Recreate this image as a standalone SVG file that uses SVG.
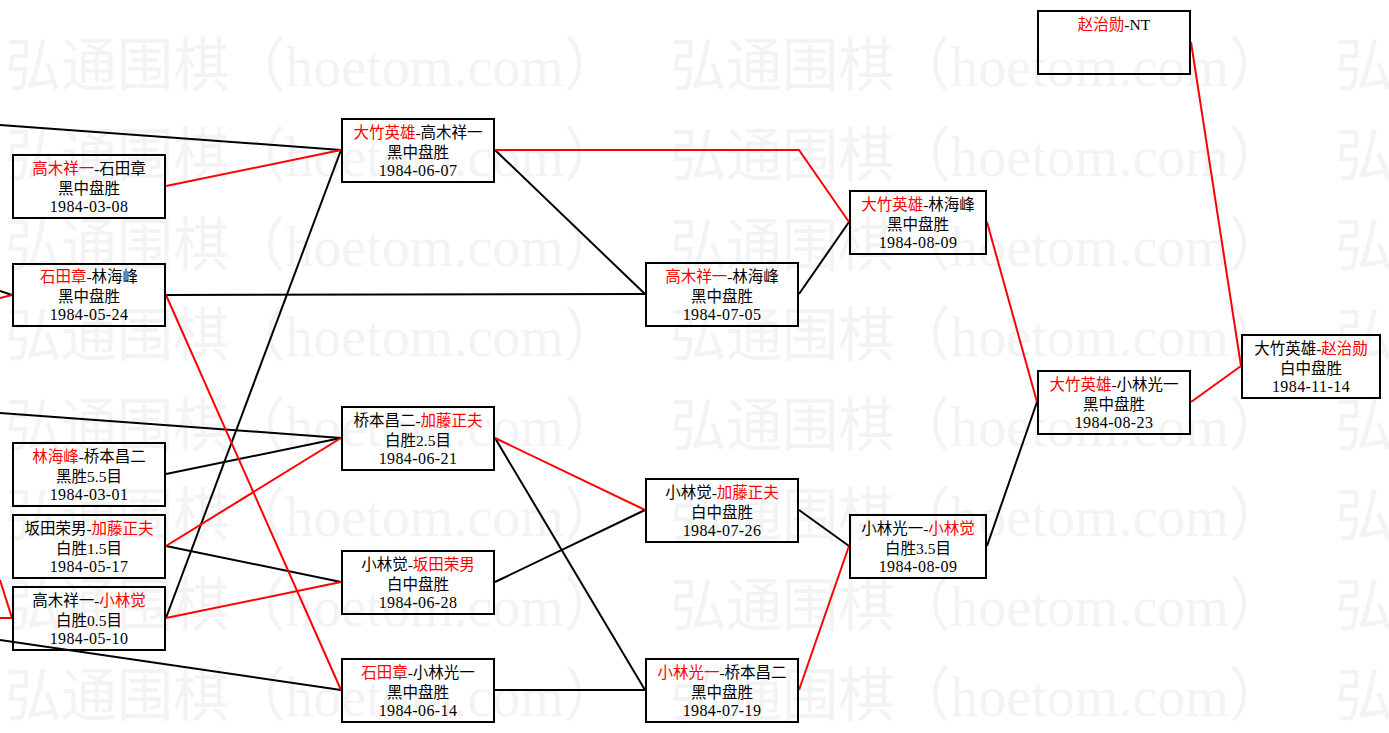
<svg xmlns="http://www.w3.org/2000/svg" width="1389" height="733" viewBox="0 0 1389 733">
<style>
.wm{font-family:"Liberation Serif","Noto Sans CJK SC",serif;font-size:58px;fill:#f3f3f3}
.box{fill:none;stroke:#000;stroke-width:2}
.t{font-family:"Liberation Serif","Noto Sans CJK SC",serif;font-size:15.5px;fill:#000;text-anchor:middle}
.d{font-family:"Liberation Serif","Noto Sans CJK SC",serif;font-size:16px;letter-spacing:0.4px;fill:#000;text-anchor:middle}
.r{fill:#ff0000}
.k{stroke:#000;stroke-width:2;fill:none}
.rd{stroke:#ff0000;stroke-width:2;fill:none}
</style>
<rect width="1389" height="733" fill="#ffffff"/>
<g id="watermark">
<text class="wm" x="5" y="86" textLength="615" lengthAdjust="spacingAndGlyphs">弘通围棋（hoetom.com）</text>
<text class="wm" x="670" y="86" textLength="615" lengthAdjust="spacingAndGlyphs">弘通围棋（hoetom.com）</text>
<text class="wm" x="1335" y="86">弘</text>
<text class="wm" x="5" y="176" textLength="615" lengthAdjust="spacingAndGlyphs">弘通围棋（hoetom.com）</text>
<text class="wm" x="670" y="176" textLength="615" lengthAdjust="spacingAndGlyphs">弘通围棋（hoetom.com）</text>
<text class="wm" x="1335" y="176">弘</text>
<text class="wm" x="5" y="266" textLength="615" lengthAdjust="spacingAndGlyphs">弘通围棋（hoetom.com）</text>
<text class="wm" x="670" y="266" textLength="615" lengthAdjust="spacingAndGlyphs">弘通围棋（hoetom.com）</text>
<text class="wm" x="1335" y="266">弘</text>
<text class="wm" x="5" y="356" textLength="615" lengthAdjust="spacingAndGlyphs">弘通围棋（hoetom.com）</text>
<text class="wm" x="670" y="356" textLength="615" lengthAdjust="spacingAndGlyphs">弘通围棋（hoetom.com）</text>
<text class="wm" x="1335" y="356">弘</text>
<text class="wm" x="5" y="446" textLength="615" lengthAdjust="spacingAndGlyphs">弘通围棋（hoetom.com）</text>
<text class="wm" x="670" y="446" textLength="615" lengthAdjust="spacingAndGlyphs">弘通围棋（hoetom.com）</text>
<text class="wm" x="1335" y="446">弘</text>
<text class="wm" x="5" y="536" textLength="615" lengthAdjust="spacingAndGlyphs">弘通围棋（hoetom.com）</text>
<text class="wm" x="670" y="536" textLength="615" lengthAdjust="spacingAndGlyphs">弘通围棋（hoetom.com）</text>
<text class="wm" x="1335" y="536">弘</text>
<text class="wm" x="5" y="626" textLength="615" lengthAdjust="spacingAndGlyphs">弘通围棋（hoetom.com）</text>
<text class="wm" x="670" y="626" textLength="615" lengthAdjust="spacingAndGlyphs">弘通围棋（hoetom.com）</text>
<text class="wm" x="1335" y="626">弘</text>
<text class="wm" x="5" y="716" textLength="615" lengthAdjust="spacingAndGlyphs">弘通围棋（hoetom.com）</text>
<text class="wm" x="670" y="716" textLength="615" lengthAdjust="spacingAndGlyphs">弘通围棋（hoetom.com）</text>
<text class="wm" x="1335" y="716">弘</text>
</g>
<g id="connectors">
<line class="k" x1="0" y1="125" x2="341" y2="150"/>
<line class="k" x1="0" y1="291" x2="12" y2="295"/>
<line class="k" x1="0" y1="413" x2="341" y2="438"/>
<line class="k" x1="0" y1="640" x2="341" y2="690"/>
<line class="k" x1="166" y1="295" x2="645" y2="294"/>
<line class="k" x1="166" y1="474" x2="341" y2="438"/>
<line class="k" x1="166" y1="546" x2="341" y2="582"/>
<line class="k" x1="166" y1="618" x2="341" y2="150"/>
<line class="k" x1="495" y1="150" x2="645" y2="294"/>
<line class="k" x1="495" y1="438" x2="645" y2="690"/>
<line class="k" x1="495" y1="582" x2="645" y2="510"/>
<line class="k" x1="495" y1="690" x2="645" y2="690"/>
<line class="k" x1="799" y1="294" x2="849" y2="222"/>
<line class="k" x1="799" y1="510" x2="849" y2="546"/>
<line class="k" x1="987" y1="546" x2="1037" y2="402"/>
<line class="rd" x1="0" y1="298" x2="12" y2="295"/>
<line class="rd" x1="0" y1="580" x2="12" y2="618"/>
<line class="rd" x1="0" y1="618" x2="12" y2="618"/>
<line class="rd" x1="166" y1="186" x2="341" y2="150"/>
<line class="rd" x1="166" y1="295" x2="341" y2="690"/>
<line class="rd" x1="166" y1="546" x2="341" y2="438"/>
<line class="rd" x1="166" y1="618" x2="341" y2="582"/>
<polyline class="rd" points="495,150 799,150 849,222"/>
<line class="rd" x1="495" y1="438" x2="645" y2="510"/>
<line class="rd" x1="799" y1="690" x2="849" y2="546"/>
<line class="rd" x1="987" y1="222" x2="1037" y2="402"/>
<line class="rd" x1="1191" y1="402" x2="1241" y2="366"/>
<line class="rd" x1="1191" y1="42" x2="1241" y2="366"/>
</g>
<g id="n-a"><rect class="box" x="13" y="155" width="152" height="63"/>
<text class="t" x="89" y="174"><tspan class="r">高木祥一</tspan>-石田章</text><text class="t" x="89" y="194">黑中盘胜</text><text class="d" x="89" y="212">1984-03-08</text></g>
<g id="n-b"><rect class="box" x="13" y="264" width="152" height="62"/>
<text class="t" x="89" y="282"><tspan class="r">石田章</tspan>-林海峰</text><text class="t" x="89" y="302">黑中盘胜</text><text class="d" x="89" y="320">1984-05-24</text></g>
<g id="n-c"><rect class="box" x="13" y="443" width="152" height="63"/>
<text class="t" x="89" y="462"><tspan class="r">林海峰</tspan>-桥本昌二</text><text class="t" x="89" y="482">黑胜5.5目</text><text class="d" x="89" y="500">1984-03-01</text></g>
<g id="n-d"><rect class="box" x="13" y="515" width="152" height="63"/>
<text class="t" x="89" y="534">坂田荣男-<tspan class="r">加藤正夫</tspan></text><text class="t" x="89" y="554">白胜1.5目</text><text class="d" x="89" y="572">1984-05-17</text></g>
<g id="n-e"><rect class="box" x="13" y="587" width="152" height="63"/>
<text class="t" x="89" y="606">高木祥一-<tspan class="r">小林觉</tspan></text><text class="t" x="89" y="626">白胜0.5目</text><text class="d" x="89" y="644">1984-05-10</text></g>
<g id="n-r2a"><rect class="box" x="342" y="119" width="152" height="63"/>
<text class="t" x="418" y="138"><tspan class="r">大竹英雄</tspan>-高木祥一</text><text class="t" x="418" y="158">黑中盘胜</text><text class="d" x="418" y="176">1984-06-07</text></g>
<g id="n-r2b"><rect class="box" x="342" y="407" width="152" height="63"/>
<text class="t" x="418" y="426">桥本昌二-<tspan class="r">加藤正夫</tspan></text><text class="t" x="418" y="446">白胜2.5目</text><text class="d" x="418" y="464">1984-06-21</text></g>
<g id="n-r2c"><rect class="box" x="342" y="551" width="152" height="63"/>
<text class="t" x="418" y="570">小林觉-<tspan class="r">坂田荣男</tspan></text><text class="t" x="418" y="590">白中盘胜</text><text class="d" x="418" y="608">1984-06-28</text></g>
<g id="n-r2d"><rect class="box" x="342" y="659" width="152" height="63"/>
<text class="t" x="418" y="678"><tspan class="r">石田章</tspan>-小林光一</text><text class="t" x="418" y="698">黑中盘胜</text><text class="d" x="418" y="716">1984-06-14</text></g>
<g id="n-r3a"><rect class="box" x="646" y="263" width="152" height="63"/>
<text class="t" x="722" y="282"><tspan class="r">高木祥一</tspan>-林海峰</text><text class="t" x="722" y="302">黑中盘胜</text><text class="d" x="722" y="320">1984-07-05</text></g>
<g id="n-r3b"><rect class="box" x="646" y="479" width="152" height="63"/>
<text class="t" x="722" y="498">小林觉-<tspan class="r">加藤正夫</tspan></text><text class="t" x="722" y="518">白中盘胜</text><text class="d" x="722" y="536">1984-07-26</text></g>
<g id="n-r3c"><rect class="box" x="646" y="659" width="152" height="63"/>
<text class="t" x="722" y="678"><tspan class="r">小林光一</tspan>-桥本昌二</text><text class="t" x="722" y="698">黑中盘胜</text><text class="d" x="722" y="716">1984-07-19</text></g>
<g id="n-r4a"><rect class="box" x="850" y="191" width="136" height="63"/>
<text class="t" x="918" y="210"><tspan class="r">大竹英雄</tspan>-林海峰</text><text class="t" x="918" y="230">黑中盘胜</text><text class="d" x="918" y="248">1984-08-09</text></g>
<g id="n-r4b"><rect class="box" x="850" y="515" width="136" height="63"/>
<text class="t" x="918" y="534">小林光一-<tspan class="r">小林觉</tspan></text><text class="t" x="918" y="554">白胜3.5目</text><text class="d" x="918" y="572">1984-08-09</text></g>
<g id="n-r5"><rect class="box" x="1038" y="371" width="152" height="63"/>
<text class="t" x="1114" y="390"><tspan class="r">大竹英雄</tspan>-小林光一</text><text class="t" x="1114" y="410">黑中盘胜</text><text class="d" x="1114" y="428">1984-08-23</text></g>
<g id="n-nt"><rect class="box" x="1038" y="11" width="152" height="63"/>
<text class="t" x="1114" y="30"><tspan class="r">赵治勋</tspan>-NT</text></g>
<g id="n-final"><rect class="box" x="1242" y="335" width="138" height="63"/>
<text class="t" x="1311" y="354">大竹英雄-<tspan class="r">赵治勋</tspan></text><text class="t" x="1311" y="374">白中盘胜</text><text class="d" x="1311" y="392">1984-11-14</text></g>
</svg>
